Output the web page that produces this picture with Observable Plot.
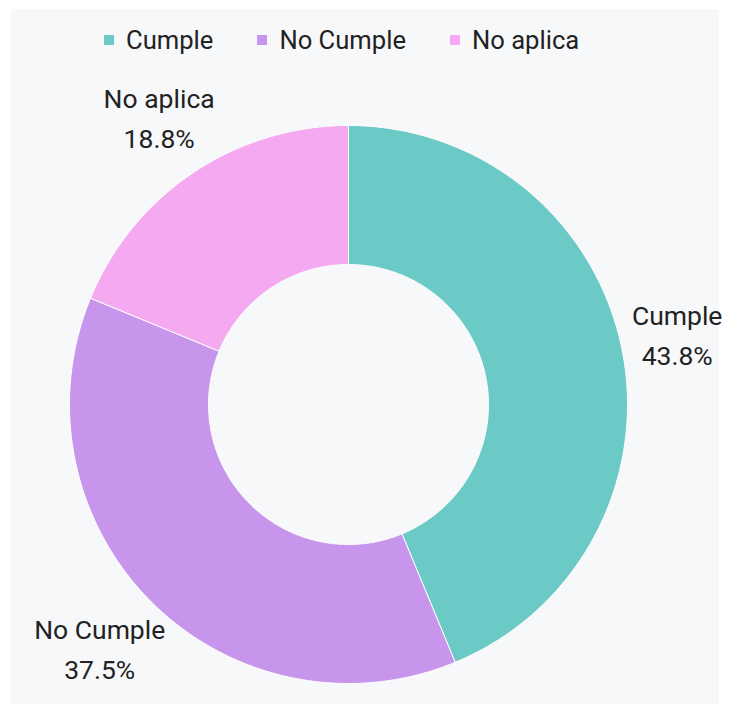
<!DOCTYPE html>
<html><head><meta charset="utf-8">
<script src="https://cdn.jsdelivr.net/npm/d3@7"></script>
<script src="https://cdn.jsdelivr.net/npm/@observablehq/plot@0.6"></script>
<style>
html,body{margin:0;padding:0;background:#fff;}
#panel{position:absolute;left:11px;top:9px;width:708px;height:695px;background:#f7f8fa;padding-top:15px;box-sizing:border-box;font-family:Roboto,sans-serif;}
.lg-swatches{justify-content:flex-start;padding-left:93px;font-family:Roboto,sans-serif!important;font-size:25.6px!important;color:#222!important;margin:0!important;height:31px;min-height:31px!important;}
.lg-swatch{margin-right:44px!important;}
.lg-swatch:last-child{margin-right:0!important;}
.lg-swatch > svg{margin-right:12px!important;}
</style></head>
<body><div id="panel"></div>
<script>
const categories = ["Cumple", "No Cumple", "No aplica"];
const shares = [43.8, 37.5, 18.8];
const pctLabels = ["43.8%", "37.5%", "18.8%"];
const colors = ["#6ccac6", "#c895ec", "#f4a9f0"];

const W = 708, H = 695 - 15 - 31;
const cx = 337, cy = 349, R = 279;
const inner = 140 / R;
const labelFont = 26.5, lineGap = 40, labelOffset = 285;

const ctx = document.createElement("canvas").getContext("2d");
ctx.font = labelFont + "px Roboto";

const arcs = d3.pie().sort(null)(shares);
const slices = arcs.map((a, i) => {
  const n = Math.max(2, Math.ceil((a.endAngle - a.startAngle) / (Math.PI / 360)));
  const pts = [];
  for (let k = 0; k <= n; k++) {
    const t = a.startAngle + (a.endAngle - a.startAngle) * k / n;
    pts.push({x: Math.sin(t), y: Math.cos(t)});
  }
  for (let k = n; k >= 0; k--) {
    const t = a.startAngle + (a.endAngle - a.startAngle) * k / n;
    pts.push({x: inner * Math.sin(t), y: inner * Math.cos(t)});
  }
  pts.push(pts[0]);
  return {name: categories[i], color: colors[i], points: pts};
});
const labelData = arcs.map((a, i) => {
  const m = (a.startAngle + a.endAngle) / 2;
  const w = Math.max(ctx.measureText(categories[i]).width, ctx.measureText(pctLabels[i]).width);
  const h = lineGap + 0.71 * labelFont;
  const d = (labelOffset + w / 2 * Math.abs(Math.sin(m)) + h / 2 * Math.abs(Math.cos(m))) / R;
  return {x: d * Math.sin(m), y: d * Math.cos(m), text: categories[i] + "\n" + pctLabels[i]};
});

const legend = Plot.legend({
  color: {domain: categories, range: colors},
  legend: "swatches",
  swatchSize: 10,
  className: "lg"
});

const chart = Plot.plot({
  width: W, height: H,
  margin: 0,
  style: {background: "transparent", overflow: "visible"},
  x: {type: "linear", domain: [-cx / R, (W - cx) / R], range: [0, W], axis: null},
  y: {type: "linear", domain: [-(H - cy) / R, cy / R], range: [H, 0], axis: null},
  marks: [
    ...slices.map(s => Plot.line(s.points, {x: "x", y: "y", fill: s.color, stroke: "#ffffff", strokeWidth: 1, strokeLinejoin: "round", curve: "linear"})),
    Plot.text(labelData, {x: "x", y: "y", text: "text", fontSize: labelFont, lineHeight: lineGap / labelFont, dy: -7, fill: "#222", fontFamily: "Roboto, sans-serif", textAnchor: "middle", lineAnchor: "middle"})
  ]
});

const panel = document.getElementById("panel");
panel.appendChild(legend);
panel.appendChild(chart);
</script>
</body></html>
